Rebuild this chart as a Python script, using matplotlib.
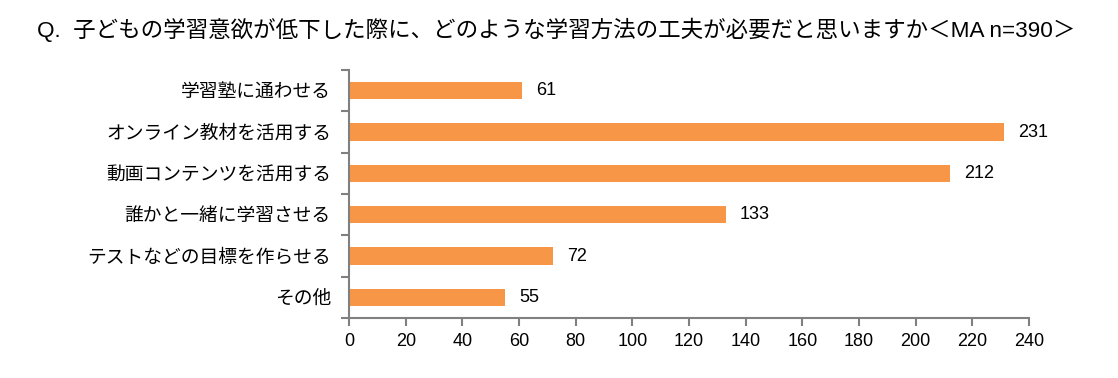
import matplotlib
matplotlib.use('Agg')
import matplotlib.pyplot as plt
import numpy as np

plt.rcParams['font.family'] = ['Liberation Sans', 'Noto Sans CJK JP']

categories = ['学習塾に通わせる', 'オンライン教材を活用する', '動画コンテンツを活用する',
              '誰かと一緒に学習させる', 'テストなどの目標を作らせる', 'その他']
values = [61, 231, 212, 133, 72, 55]
xticks = list(range(0, 241, 20))
title = 'Q.  子どもの学習意欲が低下した際に、どのような学習方法の工夫が必要だと思いますか＜MA n=390＞'

fig = plt.figure(figsize=(11.18, 3.78), dpi=100)
ax = fig.add_axes([0.3122, 0.1587, 0.6082, 0.6561])

y = np.arange(len(categories))[::-1]
ax.barh(y, values, height=0.42, color='#F79646')
for yi, v in zip(y, values):
    ax.text(v + 5, yi, str(v), va='center', ha='left', fontsize=13, color='black')

ax.set_xlim(0, 240)
ax.set_ylim(-0.5, len(categories) - 0.5)
ax.set_xticks(xticks)
ax.set_xticklabels([str(t) for t in xticks], fontsize=13)
ax.set_yticks(y)
ax.set_yticklabels(categories, fontsize=13.5)
ax.set_yticks(np.arange(-0.5, len(categories), 1), minor=True)
ax.tick_params(axis='y', which='major', length=0, pad=13)
ax.tick_params(axis='y', which='minor', length=6, width=1.5, color='#808080')
ax.tick_params(axis='x', length=6, width=1.5, color='#808080', pad=5)

for s in ['top', 'right']:
    ax.spines[s].set_visible(False)
for s in ['left', 'bottom']:
    ax.spines[s].set_color('#808080')
    ax.spines[s].set_linewidth(1.5)

fig.text(0.033, 0.92, title, fontsize=16.2, ha='left', va='center')

plt.savefig('out.png', dpi=100)
plt.close()
